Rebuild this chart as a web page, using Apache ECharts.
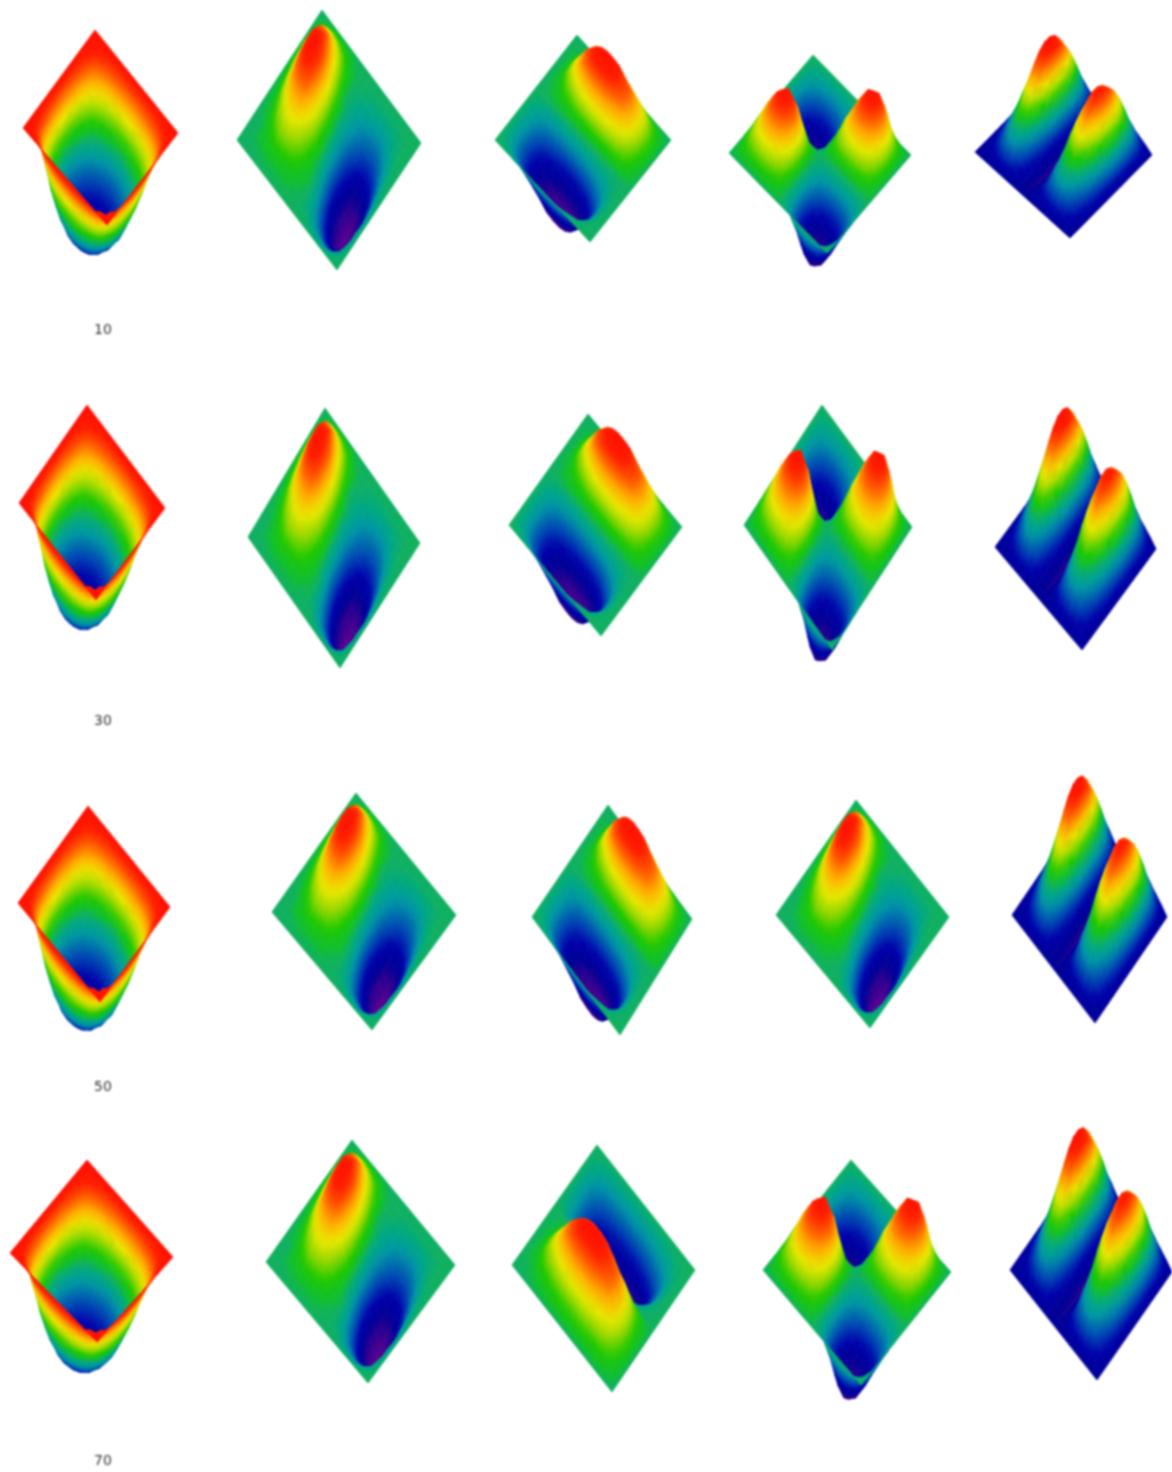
<!DOCTYPE html>
<html><head><meta charset="utf-8">
<style>html,body{margin:0;padding:0;background:#fff}#c{width:1172px;height:1472px;filter:blur(0.9px)}</style>
<script src="https://cdn.jsdelivr.net/npm/echarts@6/dist/echarts.min.js"></script>
</head><body><div id="c"></div>
<script>
// Surface heights, on a 17x17 lattice (level 0 = deepest, 100 = highest).
const bowl=[
[100,100,100,100,100,100,100,100,100,100,100,100,100,100,100,100,100],
[100,98,96,91,87,84,81,79,79,79,81,84,87,91,96,98,100],
[100,96,85,76,68,61,56,53,52,53,56,61,68,76,85,96,100],
[100,91,76,62,52,45,39,36,34,36,39,45,52,62,76,91,100],
[100,87,68,52,43,34,29,25,24,25,29,34,43,52,68,87,100],
[100,84,61,45,34,26,21,18,17,18,21,26,34,45,61,84,100],
[100,81,56,39,29,21,16,14,13,14,16,21,29,39,56,81,100],
[100,79,53,36,25,18,14,12,11,12,14,18,25,36,53,79,100],
[100,79,52,34,24,17,13,11,10,11,13,17,24,34,52,79,100],
[100,79,53,36,25,18,14,12,11,12,14,18,25,36,53,79,100],
[100,81,56,39,29,21,16,14,13,14,16,21,29,39,56,81,100],
[100,84,61,45,34,26,21,18,17,18,21,26,34,45,61,84,100],
[100,87,68,52,43,34,29,25,24,25,29,34,43,52,68,87,100],
[100,91,76,62,52,45,39,36,34,36,39,45,52,62,76,91,100],
[100,96,85,76,68,61,56,53,52,53,56,61,68,76,85,96,100],
[100,98,96,91,87,84,81,79,79,79,81,84,87,91,96,98,100],
[100,100,100,100,100,100,100,100,100,100,100,100,100,100,100,100,100]];
const slanted=[
[50,50,50,50,50,50,50,50,50,50,50,50,50,50,50,50,50],
[50,52,55,57,56,54,51,50,50,49,49,49,49,49,50,50,50],
[50,55,62,66,64,60,54,50,49,47,45,44,44,46,48,50,50],
[50,57,69,76,74,67,58,50,47,43,39,37,37,42,47,50,50],
[50,59,74,85,84,74,63,51,46,40,34,30,31,36,44,49,50],
[50,59,77,91,92,81,68,55,46,38,30,23,23,30,40,48,50],
[50,60,79,95,98,88,73,58,46,36,25,15,15,21,35,47,50],
[50,59,77,95,100,92,77,61,48,36,22,9,6,13,30,45,50],
[50,57,74,93,99,93,78,63,50,37,22,7,1,7,26,43,50],
[50,55,70,87,94,91,78,64,52,39,23,8,0,5,23,41,50],
[50,53,65,79,85,85,75,64,54,42,27,12,2,5,21,40,50],
[50,52,60,70,77,77,70,62,54,45,32,19,8,9,23,41,50],
[50,51,56,64,69,70,66,60,54,49,37,26,16,15,26,41,50],
[50,50,53,58,63,63,61,57,53,50,42,33,26,24,31,43,50],
[50,50,52,54,56,56,55,53,51,50,46,40,36,34,38,45,50],
[50,50,50,51,51,51,51,51,50,50,49,46,44,43,45,48,50],
[50,50,50,50,50,50,50,50,50,50,50,50,50,50,50,50,50]];
const ridge=[
[50,50,50,50,50,50,50,50,50,50,50,50,50,50,50,50,50],
[50,50,51,53,55,57,59,61,62,62,63,62,61,60,57,53,50],
[50,51,53,58,63,67,72,76,79,80,80,79,76,73,67,58,50],
[50,51,55,62,69,77,84,90,94,96,96,95,90,85,75,62,50],
[50,51,56,63,71,79,87,93,98,100,100,99,94,89,78,63,50],
[50,51,55,62,69,76,83,89,93,95,95,94,90,85,75,61,50],
[50,51,53,58,63,68,73,77,80,81,81,80,77,74,67,58,50],
[50,50,52,54,57,59,62,64,65,66,66,66,64,62,59,54,50],
[50,50,50,50,50,50,50,50,50,50,50,50,50,50,50,50,50],
[50,46,41,38,36,34,34,34,35,36,38,41,43,46,48,50,50],
[50,42,33,26,23,20,19,19,20,23,27,32,37,42,47,49,50],
[50,39,25,15,10,6,5,5,7,11,17,24,31,38,45,49,50],
[50,37,22,11,6,1,0,0,2,7,13,21,29,37,44,49,50],
[50,38,25,15,10,5,4,4,6,10,16,23,31,38,45,49,50],
[50,42,33,27,24,21,20,20,21,24,28,33,37,42,47,49,50],
[50,47,43,40,39,38,37,38,38,39,41,43,45,47,49,50,50],
[50,50,50,50,50,50,50,50,50,50,50,50,50,50,50,50,50]];
const quad=[
[50,50,50,50,50,50,50,50,50,50,50,50,50,50,50,50,50],
[50,45,41,37,35,36,39,44,50,56,61,64,65,63,59,55,50],
[50,41,31,23,19,21,28,38,50,62,72,79,81,77,69,59,50],
[50,37,23,11,6,9,19,33,50,67,81,91,94,89,77,63,50],
[50,35,19,6,0,3,15,31,50,69,85,97,100,94,81,65,50],
[50,36,21,9,3,7,17,32,50,68,83,93,97,91,79,64,50],
[50,39,28,19,15,17,25,37,50,63,75,83,85,81,72,61,50],
[50,44,38,33,31,32,37,43,50,57,63,68,69,67,62,56,50],
[50,50,50,50,50,50,50,50,50,50,50,50,50,50,50,50,50],
[50,56,62,67,69,68,63,57,50,43,37,32,31,33,38,44,50],
[50,61,72,81,85,83,75,63,50,37,25,17,15,19,28,39,50],
[50,64,79,91,97,93,83,68,50,32,17,7,3,9,21,36,50],
[50,65,81,94,100,97,85,69,50,31,15,3,0,6,19,35,50],
[50,63,77,89,94,91,81,67,50,33,19,9,6,11,23,37,50],
[50,59,69,77,81,79,72,62,50,38,28,21,19,23,31,41,50],
[50,55,59,63,65,64,61,56,50,44,39,36,35,37,41,45,50],
[50,50,50,50,50,50,50,50,50,50,50,50,50,50,50,50,50]];
const twin=[
[15,17,19,22,25,25,20,16,14,15,19,22,25,25,22,19,15],
[15,20,26,33,41,39,29,17,12,16,26,33,38,39,33,24,15],
[15,23,33,46,58,56,38,19,10,17,32,46,54,56,46,31,15],
[15,26,40,58,75,72,47,21,8,17,38,58,70,72,58,37,15],
[15,28,46,67,87,84,53,22,6,18,44,67,82,84,67,41,15],
[15,29,49,73,96,92,58,23,5,18,47,73,89,92,73,44,15],
[15,30,51,76,100,96,60,23,5,18,49,76,93,97,76,46,15],
[15,30,51,76,100,96,60,23,5,18,49,76,93,97,76,46,15],
[15,29,49,73,96,92,58,23,5,18,47,73,89,92,73,44,15],
[15,28,46,68,89,85,54,22,6,18,45,68,83,86,68,42,15],
[15,26,42,61,80,77,49,21,7,17,40,62,74,78,62,39,15],
[15,25,38,54,69,67,44,20,9,17,36,54,65,67,54,35,15],
[15,23,34,47,59,57,38,19,10,17,33,47,55,57,47,31,15],
[15,21,29,39,49,47,33,18,11,16,29,39,47,48,39,27,15],
[15,19,25,32,39,38,28,17,12,16,25,32,37,38,32,24,15],
[15,17,20,24,27,26,21,16,14,15,19,23,25,26,23,19,15],
[15,15,15,15,15,15,15,15,15,15,15,15,15,15,15,15,15]];
const rowLabels=['10','30','50','70'];

// Layout only: which surface each panel shows and how it is viewed.
const surfaces={bowl:{z:bowl,base:100,lean:.1,tone:6},slanted:{z:slanted,base:50,lean:.08,tone:0},ridge:{z:ridge,base:50,lean:-.12,tone:0},quad:{z:quad,base:50,lean:.15,tone:0},twin:{z:twin,base:15,lean:0,tone:0}};
const labelPos=[[103,330],[103,721],[103,1087],[103,1461]];
// corners: lattice corner (0,0), (last col,0), (0,last row), (last col,last row); lift: pixels per level; optional lean
const views=[
['bowl',[95,30],[178,133],[23,128],[107,225],1.2],
['slanted',[322,10],[421,143],[237,140],[337,270],1.2],
['ridge',[577,35],[671,140],[495,140],[590,242],1.35],
['quad',[813,55],[911,155],[729,153],[827,253],1.25],
['twin',[1057,69],[1152,155],[975,152],[1070,238],1.0],
['bowl',[87,405],[165,508],[19,503],[96,600],1.2],
['slanted',[325,408],[420,543],[248,537],[340,668],1.25],
['ridge',[588,414],[682,527],[509,525],[601,636],1.42],
['quad',[822,405],[912,527],[744,525],[832,650],1.45],
['twin',[1069,446],[1156,549],[995,547],[1082,650],1.18],
['bowl',[88,806],[170,907],[18,903],[100,1002],1.2],
['slanted',[356,793],[456,915],[272,912],[372,1030],1.15],
['ridge',[608,805],[692,919],[532,917],[620,1035],1.48],
['slanted',[856,800],[949,917],[776,915],[870,1028],1.1],
['twin',[1084,809],[1167,917],[1012,915],[1095,1023],1.15],
['bowl',[87,1160],[173,1257],[10,1253],[97,1342],1.15],
['slanted',[352,1140],[455,1265],[266,1262],[368,1383],1.15],
['ridge',[512,1265],[612,1392],[597,1145],[695,1270],1.65,0],
['quad',[851,1160],[951,1272],[763,1270],[861,1385],1.42],
['twin',[1085,1162],[1172,1272],[1010,1270],[1097,1380],1.18]
];
const ramp=[[0,[90,0,144]],[8,[42,0,144]],[14,[0,0,150]],[22,[0,0,170]],[30,[0,70,180]],[40,[0,150,165]],[46,[0,168,130]],[50,[16,176,96]],[52,[16,190,50]],[58,[30,200,0]],[65,[150,215,0]],[72,[232,232,0]],[80,[255,176,0]],[88,[255,90,0]],[95,[255,30,0]],[100,[255,16,0]]];
function colorAt(v,tone){
  v=v+(tone||0)*Math.max(0,1-v/70);
  v=Math.max(0,Math.min(100,v));
  for(let k=1;k<ramp.length;k++){
    if(v<=ramp[k][0]){
      const a=ramp[k-1],b=ramp[k],f=(v-a[0])/(b[0]-a[0]);
      return 'rgb('+[0,1,2].map(n=>Math.round(a[1][n]+(b[1][n]-a[1][n])*f)).join(',')+')';
    }
  }
  return 'rgb(255,16,0)';
}
function project(view,i,j,level){
  const n=16,u=j/n,w=i/n,s=surfaces[view[0]],lift=view[5],lean=view[6]===undefined?s.lean:view[6];
  const c0=view[1],c1=view[2],c2=view[3],c3=view[4];
  const x=(1-u)*(1-w)*c0[0]+u*(1-w)*c1[0]+(1-u)*w*c2[0]+u*w*c3[0];
  const y=(1-u)*(1-w)*c0[1]+u*(1-w)*c1[1]+(1-u)*w*c2[1]+u*w*c3[1];
  const h=(level-s.base)*lift;
  return [x+h*lean,y-h];
}
function cellFill(pts,lv,tone){
  const lo=Math.min(...lv),hi=Math.max(...lv),mid=(lv[0]+lv[1]+lv[2]+lv[3])/4;
  const flat=colorAt(mid,tone);
  const ex=(pts[1][0]+pts[2][0]-pts[0][0]-pts[3][0])/2,ey=(pts[1][1]+pts[2][1]-pts[0][1]-pts[3][1])/2,de=(lv[1]+lv[2]-lv[0]-lv[3])/2;
  const fx=(pts[2][0]+pts[3][0]-pts[0][0]-pts[1][0])/2,fy=(pts[2][1]+pts[3][1]-pts[0][1]-pts[1][1])/2,df=(lv[2]+lv[3]-lv[0]-lv[1])/2;
  const det=ex*fy-ey*fx;
  if(hi-lo<0.5||Math.abs(det)<4)return flat;
  const gx=(de*fy-df*ey)/det,gy=(df*ex-de*fx)/det,g2=gx*gx+gy*gy;
  if(g2<1e-6)return flat;
  const cx=(pts[0][0]+pts[1][0]+pts[2][0]+pts[3][0])/4,cy=(pts[0][1]+pts[1][1]+pts[2][1]+pts[3][1])/4;
  const a=(lo-mid)/g2,b=(hi-mid)/g2,stops=[];
  for(let k=0;k<=4;k++)stops.push({offset:k/4,color:colorAt(lo+(hi-lo)*k/4,tone)});
  return new echarts.graphic.LinearGradient(cx+gx*a,cy+gy*a,cx+gx*b,cy+gy*b,stops,true);
}
function cellOrder(view){
  const list=[];
  for(let i=0;i<16;i++)for(let j=0;j<16;j++){
    const p=project(view,i+.5,j+.5,surfaces[view[0]].base);
    list.push([i,j,p[1],p[0]]);
  }
  list.sort((a,b)=>a[2]-b[2]||a[3]-b[3]);
  return list.map(c=>[c[0],c[1]]);
}
const series=views.map(view=>({
  type:'custom',coordinateSystem:'cartesian2d',clip:false,silent:true,animation:false,
  encode:{x:0,y:1},data:cellOrder(view),
  renderItem(params,api){
    const i=api.value(0),j=api.value(1),s=surfaces[view[0]],z=s.z;
    const idx=[[i,j],[i,j+1],[i+1,j+1],[i+1,j]];
    const lv=idx.map(q=>z[q[0]][q[1]]);
    const pts=idx.map((q,k)=>api.coord(project(view,q[0],q[1],lv[k])));
    const f=cellFill(pts,lv,s.tone);
    return {type:'polygon',shape:{points:pts},style:{fill:f,stroke:f,lineWidth:0.8}};
  }
}));
const chart=echarts.init(document.getElementById('c'),null,{renderer:'canvas'});
chart.setOption({
  animation:false,backgroundColor:'#fff',
  title:rowLabels.map((t,k)=>({text:t,left:labelPos[k][0],top:labelPos[k][1],textAlign:'center',textVerticalAlign:'middle',padding:0,
    textStyle:{fontFamily:'DejaVu Sans',fontSize:14,fontWeight:'normal',color:'#333'}})),
  grid:{left:0,right:0,top:0,bottom:0},
  xAxis:{type:'value',min:0,max:1172,show:false},
  yAxis:{type:'value',min:0,max:1472,inverse:true,show:false},
  series
});
</script></body></html>
